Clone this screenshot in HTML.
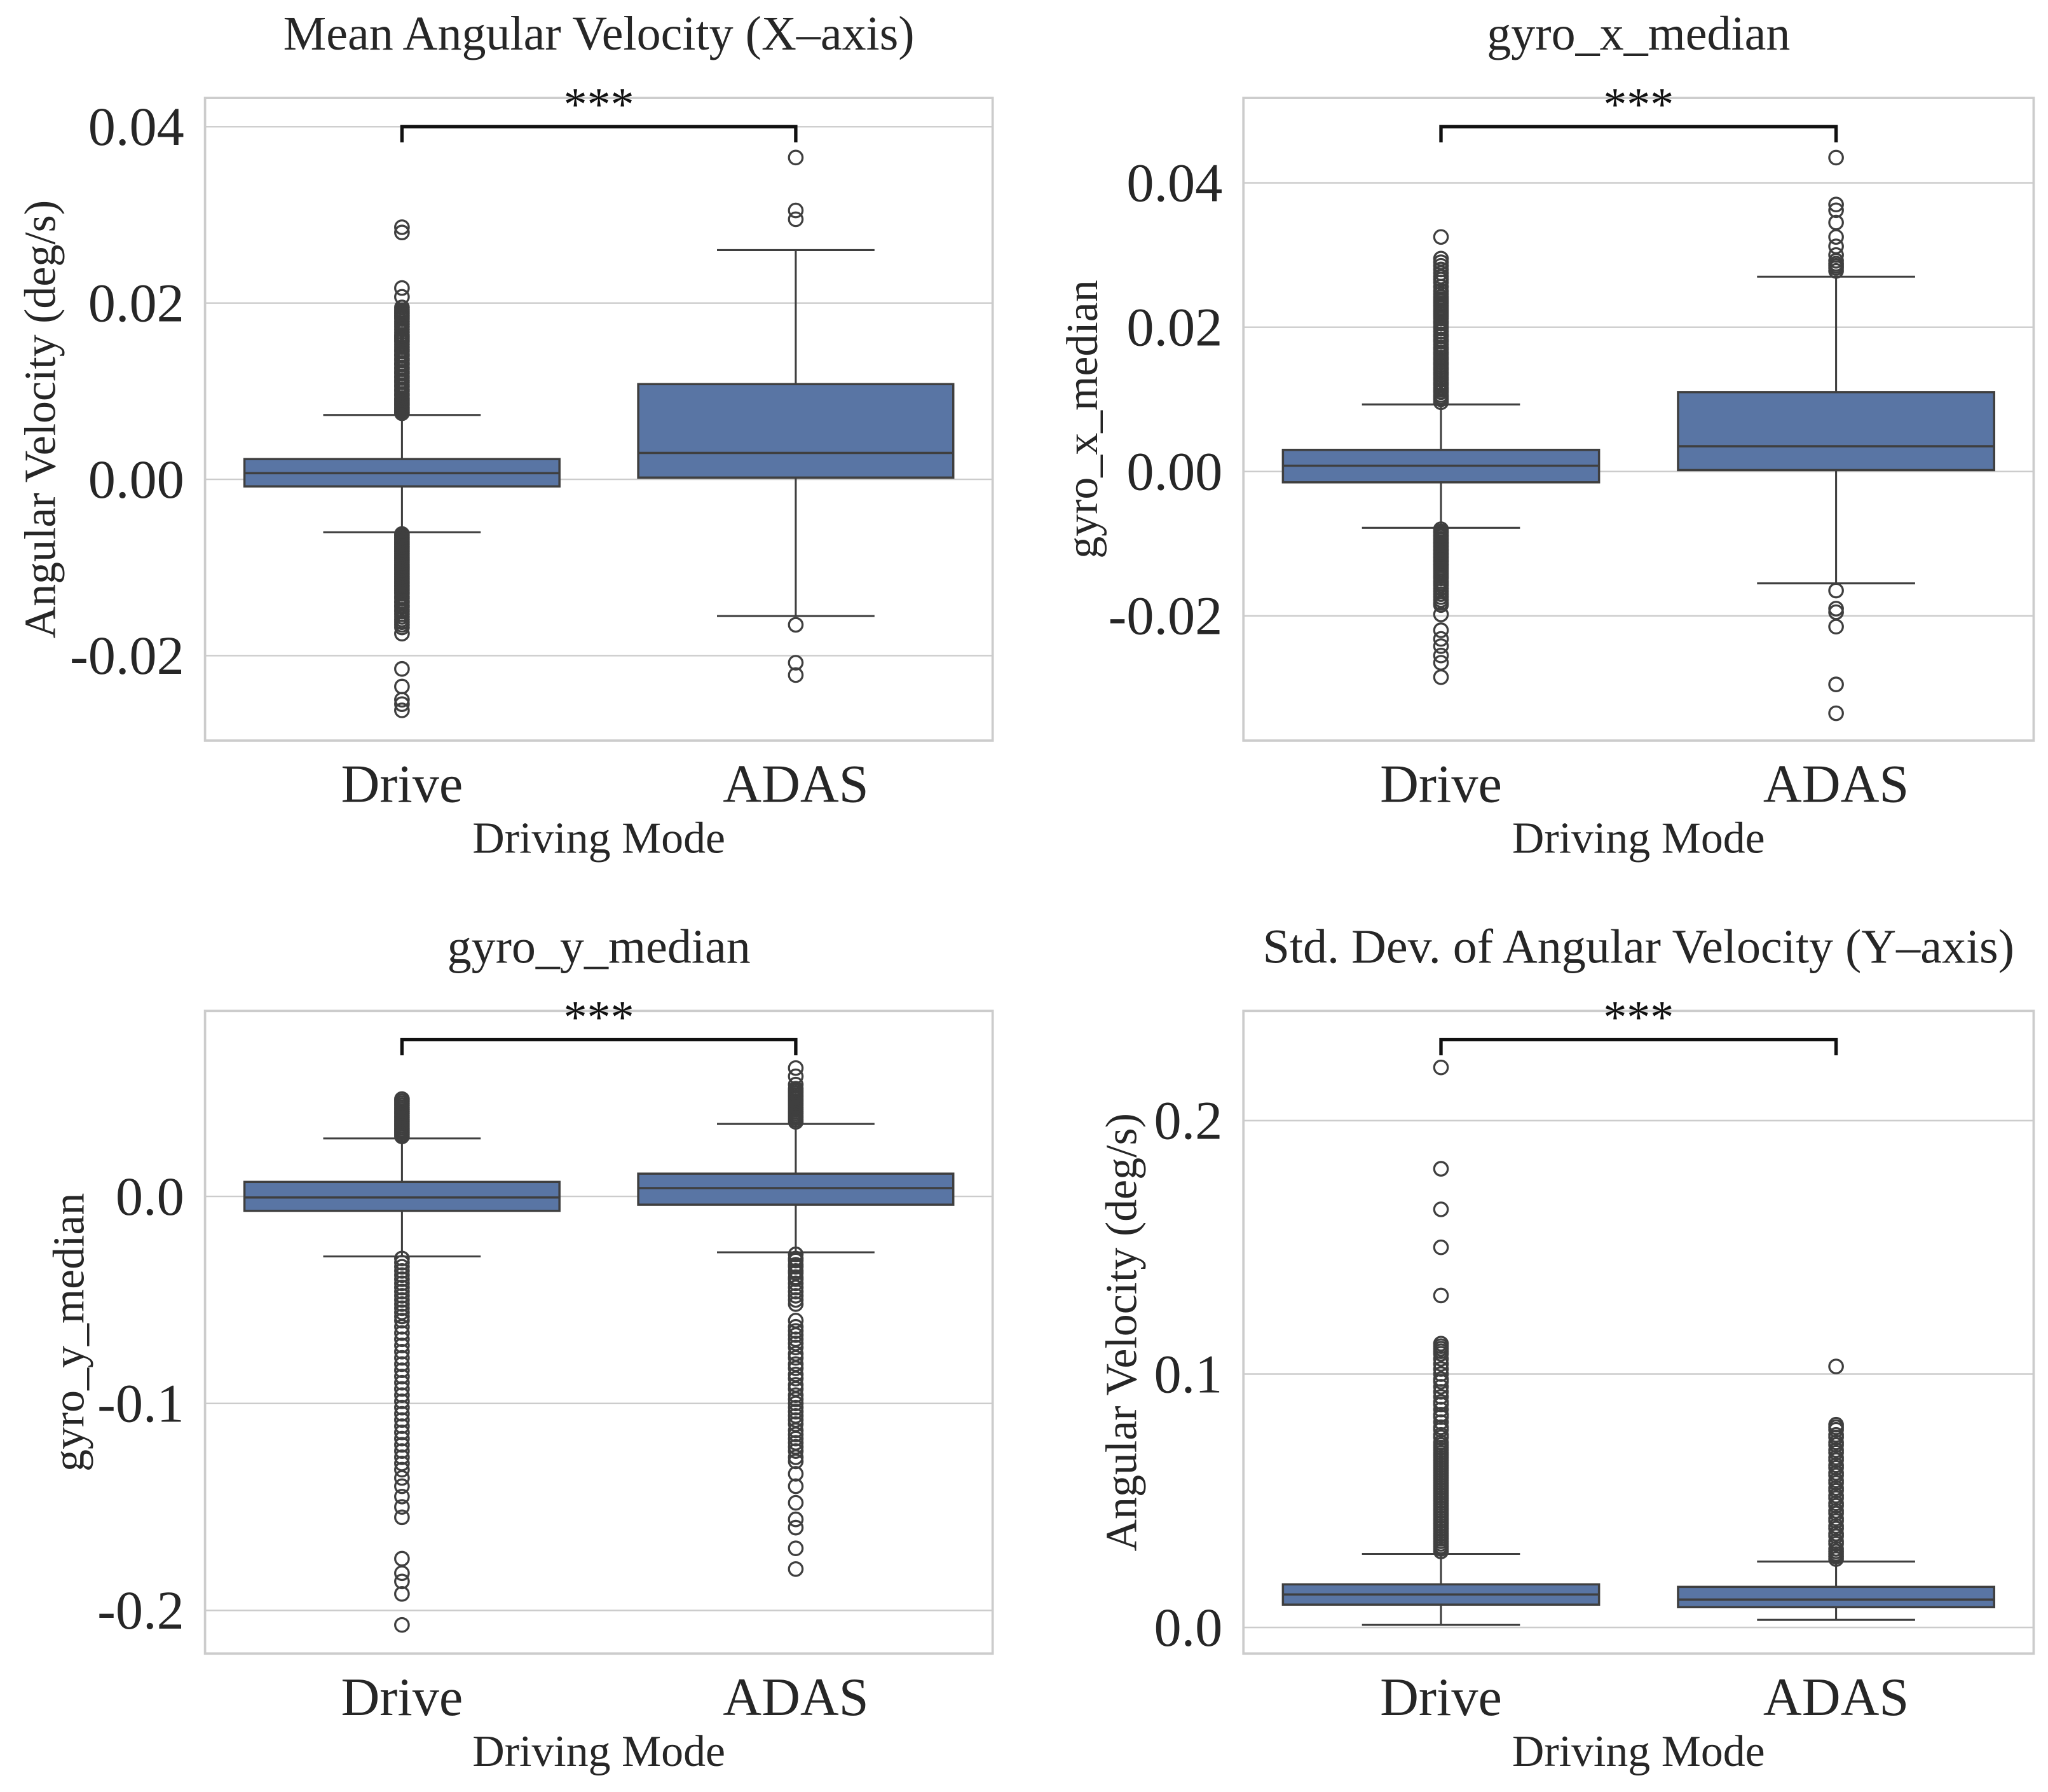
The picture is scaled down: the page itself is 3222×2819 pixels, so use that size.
<!DOCTYPE html>
<html><head><meta charset="utf-8"><style>
html,body{margin:0;padding:0;background:#fff;}
svg{display:block;}
text{font-family:"Liberation Serif",serif;fill:#262626;}
</style></head>
<body>
<svg id="fig" width="3222" height="2819" viewBox="0 0 1568 1372" preserveAspectRatio="none" xmlns="http://www.w3.org/2000/svg"></svg>
<script>
// ---- Data ----
const categories = ["Drive", "ADAS"];

// Panel 1: Mean Angular Velocity (X-axis)
const p1Ticks = [-0.02, 0.00, 0.02, 0.04];
const p1TickLabels = ["-0.02", "0.00", "0.02", "0.04"];
const p1Box = [
  {q1:-0.0008, med:0.0007, q3:0.0023, lo:-0.0060, hi:0.0073},
  {q1:0.0002, med:0.0030, q3:0.0108, lo:-0.0155, hi:0.0260}
];
const p1OutDrive = [0.0286,0.0280,0.0217,0.0207,0.0195,0.0192,0.0190,0.0188,0.0186,0.0184,0.0182,0.0179,0.0176,0.0173,0.0170,0.0167,0.0164,0.0162,0.0160,0.0158,0.0156,0.0153,0.0150,0.0147,0.0145,0.0142,0.0140,0.0137,0.0135,0.0132,0.0130,0.0127,0.0125,0.0122,0.0120,0.0117,0.0115,0.0112,0.0110,0.0107,0.0105,0.0102,0.0100,0.0097,0.0095,0.0092,0.0090,0.0088,0.0086,0.0084,0.0082,0.0080,0.0078,0.0076,0.0075,
  -0.0062,-0.0064,-0.0066,-0.0068,-0.0070,-0.0072,-0.0074,-0.0076,-0.0078,-0.0080,-0.0082,-0.0084,-0.0086,-0.0088,-0.0090,-0.0092,-0.0094,-0.0096,-0.0098,-0.0100,-0.0102,-0.0104,-0.0106,-0.0108,-0.0110,-0.0112,-0.0114,-0.0116,-0.0118,-0.0120,-0.0122,-0.0124,-0.0126,-0.0128,-0.0130,-0.0133,-0.0135,-0.0138,-0.0140,-0.0143,-0.0145,-0.0148,-0.0150,-0.0153,-0.0156,-0.0159,-0.0162,-0.0165,-0.0168,-0.0175,-0.0215,-0.0235,-0.0250,-0.0255,-0.0262];
const p1OutAdas = [0.0365,0.0305,0.0295,-0.0165,-0.0208,-0.0222];

// Panel 2: gyro_x_median
const p2Ticks = [-0.02, 0.00, 0.02, 0.04];
const p2TickLabels = ["-0.02", "0.00", "0.02", "0.04"];
const p2Box = [
  {q1:-0.0015, med:0.0008, q3:0.0030, lo:-0.0078, hi:0.0093},
  {q1:0.0002, med:0.0035, q3:0.0110, lo:-0.0155, hi:0.0270}
];
const p2OutDrive = [0.0325,0.0295,0.0290,0.0285,0.0280,0.0275,0.0270,0.0266,0.0262,0.0256,0.0250,0.0246,0.0242,0.0239,0.0236,0.0233,0.0230,0.0227,0.0224,0.0221,0.0218,0.0215,0.0212,0.0208,0.0205,0.0201,0.0198,0.0194,0.0190,0.0187,0.0183,0.0180,0.0176,0.0172,0.0169,0.0165,0.0162,0.0158,0.0155,0.0151,0.0148,0.0144,0.0141,0.0137,0.0134,0.0130,0.0127,0.0123,0.0120,0.0116,0.0113,0.0110,0.0106,0.0103,0.0100,0.0096,
  -0.0080,-0.0083,-0.0085,-0.0088,-0.0090,-0.0093,-0.0095,-0.0098,-0.0100,-0.0103,-0.0105,-0.0108,-0.0110,-0.0113,-0.0115,-0.0118,-0.0120,-0.0123,-0.0125,-0.0128,-0.0130,-0.0133,-0.0136,-0.0139,-0.0142,-0.0145,-0.0148,-0.0152,-0.0155,-0.0158,-0.0162,-0.0166,-0.0170,-0.0174,-0.0178,-0.0182,-0.0185,-0.0198,-0.0220,-0.0232,-0.0242,-0.0255,-0.0265,-0.0285];
const p2OutAdas = [0.0435,0.0370,0.0362,0.0345,0.0325,0.0312,0.0300,0.0292,0.0288,0.0285,0.0282,0.0278,-0.0165,-0.0190,-0.0195,-0.0215,-0.0295,-0.0335];

// Panel 3: gyro_y_median
const p3Ticks = [-0.2, -0.1, 0.0];
const p3TickLabels = ["-0.2", "-0.1", "0.0"];
const p3Box = [
  {q1:-0.007, med:-0.0005, q3:0.007, lo:-0.029, hi:0.028},
  {q1:-0.004, med:0.004, q3:0.011, lo:-0.027, hi:0.035}
];
const p3OutDrive = [0.047,0.046,0.045,0.044,0.043,0.042,0.041,0.040,0.039,0.038,0.037,0.036,0.035,0.034,0.033,0.032,0.031,0.030,0.029,
  -0.030,-0.032,-0.034,-0.036,-0.038,-0.040,-0.042,-0.044,-0.046,-0.048,-0.050,-0.052,-0.054,-0.056,-0.058,-0.060,-0.063,-0.066,-0.069,-0.072,-0.075,-0.078,-0.081,-0.084,-0.087,-0.090,-0.093,-0.096,-0.099,-0.102,-0.105,-0.108,-0.111,-0.114,-0.117,-0.120,-0.123,-0.126,-0.129,-0.132,-0.136,-0.140,-0.145,-0.150,-0.155,-0.175,-0.182,-0.186,-0.192,-0.207];
const p3OutAdas = [0.062,0.058,0.054,0.052,0.051,0.050,0.049,0.048,0.047,0.046,0.045,0.044,0.043,0.042,0.041,0.040,0.039,0.038,0.037,0.036,
  -0.028,-0.030,-0.031,-0.033,-0.034,-0.036,-0.037,-0.039,-0.040,-0.042,-0.044,-0.046,-0.048,-0.050,-0.052,-0.060,-0.063,-0.065,-0.067,-0.069,-0.071,-0.073,-0.076,-0.078,-0.081,-0.083,-0.086,-0.088,-0.091,-0.093,-0.096,-0.098,-0.100,-0.102,-0.104,-0.106,-0.108,-0.110,-0.113,-0.115,-0.117,-0.119,-0.121,-0.123,-0.126,-0.128,-0.134,-0.140,-0.148,-0.156,-0.160,-0.170,-0.180];

// Panel 4: Std. Dev. of Angular Velocity (Y-axis)
const p4Ticks = [0.0, 0.1, 0.2];
const p4TickLabels = ["0.0", "0.1", "0.2"];
const p4Box = [
  {q1:0.009, med:0.013, q3:0.017, lo:0.001, hi:0.029},
  {q1:0.008, med:0.011, q3:0.016, lo:0.003, hi:0.026}
];
const p4OutDrive = [0.221,0.181,0.165,0.150,0.131,0.112,0.111,0.110,0.109,0.108,0.106,0.104,0.102,0.100,0.098,0.097,0.095,0.093,0.091,0.089,0.088,0.086,0.084,0.083,0.081,0.079,0.078,0.076,0.075,0.073,0.072,0.071,0.070,0.069,0.068,0.067,0.066,0.065,0.064,0.063,0.062,0.061,0.060,0.059,0.058,0.057,0.056,0.055,0.054,0.053,0.052,0.051,0.050,0.049,0.048,0.047,0.046,0.045,0.044,0.043,0.042,0.041,0.040,0.039,0.038,0.037,0.036,0.035,0.034,0.033,0.032,0.031,0.030];
const p4OutAdas = [0.103,0.080,0.079,0.078,0.076,0.075,0.073,0.072,0.070,0.069,0.067,0.066,0.064,0.063,0.061,0.060,0.058,0.057,0.055,0.054,0.052,0.051,0.049,0.048,0.046,0.045,0.043,0.042,0.040,0.039,0.037,0.036,0.034,0.033,0.031,0.030,0.029,0.028,0.027];

// ---- Drawing ----
const NS = "http://www.w3.org/2000/svg";
const svg = document.getElementById("fig");
function mk(tag, attrs, parent) {
  const e = document.createElementNS(NS, tag);
  for (const k in attrs) e.setAttribute(k, attrs[k]);
  (parent || svg).appendChild(e);
  return e;
}
function panel(cfg) {
  const g = mk("g", {});
  
  
  const L = cfg.left, R = cfg.right, T = cfg.top, B = cfg.bottom;
  const y = v => cfg.py0 + (v - cfg.v0) * (cfg.py1 - cfg.py0) / (cfg.v1 - cfg.v0);
  const xc = i => L + (R - L) * (0.25 + 0.5 * i);
  const bw = (R - L) * 0.4;
  cfg.ticks.forEach((t, i) => {
    const ln = mk("line", {x1:L, x2:R, y1:y(t), y2:y(t), stroke:"#cccccc", "stroke-width":1.2}, g);
    
    
    const tx = mk("text", {x:L-16, y:y(t)+14, "font-size":42, "text-anchor":"end"}, g);
    tx.textContent = cfg.tickLabels[i];
    
    
  });
  const fr = mk("rect", {x:L, y:T, width:R-L, height:B-T, fill:"none", stroke:"#cccccc", "stroke-width":1.8}, g);
  
  
  cfg.box.forEach((b, i) => {
    const cx = xc(i);
    const wl = mk("line", {x1:cx, x2:cx, y1:y(b.hi), y2:y(b.lo), stroke:"#3f3f3f", "stroke-width":1.5}, g);
    
    
    [b.hi, b.lo].forEach(v => {
      const c = mk("line", {x1:cx-bw/4, x2:cx+bw/4, y1:y(v), y2:y(v), stroke:"#3f3f3f", "stroke-width":1.5}, g);
      
      
    });
    const r = mk("rect", {x:cx-bw/2, y:y(b.q3), width:bw, height:Math.max(1, y(b.q1)-y(b.q3)), fill:"#5975a4", stroke:"#3f3f3f", "stroke-width":1.7}, g);
    
    
    const m = mk("line", {x1:cx-bw/2, x2:cx+bw/2, y1:y(b.med), y2:y(b.med), stroke:"#3f3f3f", "stroke-width":1.7}, g);
    
    
    const outs = i === 0 ? cfg.outDrive : cfg.outAdas;
    outs.forEach(v => {
      const o = mk("circle", {cx:cx, cy:y(v), r:5.2, fill:"none", stroke:"#3f3f3f", "stroke-width":1.6}, g);
      
      
    });
    const xl = mk("text", {x:cx, y:B+47, "font-size":41, "text-anchor":"middle"}, g);
    xl.textContent = categories[i];
    
    
  });
  const by = T + 22;
  const br = mk("path", {d:`M${xc(0)},${by+12} V${by} H${xc(1)} V${by+12}`, fill:"none", stroke:"#111", "stroke-width":2.6}, g);
  
  
  const st = mk("text", {x:(xc(0)+xc(1))/2, y:T+17, "font-size":36, "text-anchor":"middle", style:"fill:#111"}, g);
  st.textContent = "***";
  
  
  const ti = mk("text", {x:(L+R)/2, y:T-37, "font-size":37, "text-anchor":"middle"}, g);
  ti.textContent = cfg.title;
  
  
  const xt = mk("text", {x:(L+R)/2, y:B+86, "font-size":34, "text-anchor":"middle"}, g);
  xt.textContent = "Driving Mode";
  
  
  const yl = mk("text", {x:0, y:0, "font-size":34, "text-anchor":"middle", transform:`translate(${cfg.ylx},${(T+B)/2}) rotate(-90)`}, g);
  yl.textContent = cfg.ylabel;
  
  
}
panel({name:"panel-mean-angular-velocity-x", title:"Mean Angular Velocity (X\u2013axis)", ylabel:"Angular Velocity (deg/s)", ylx:42,
  left:157, right:760, top:75, bottom:567, v0:0, py0:367, v1:0.04, py1:97,
  ticks:p1Ticks, tickLabels:p1TickLabels, box:p1Box, outDrive:p1OutDrive, outAdas:p1OutAdas});
panel({name:"panel-gyro-x-median", title:"gyro_x_median", ylabel:"gyro_x_median", ylx:840,
  left:952, right:1557, top:75, bottom:567, v0:0, py0:361, v1:0.04, py1:140,
  ticks:p2Ticks, tickLabels:p2TickLabels, box:p2Box, outDrive:p2OutDrive, outAdas:p2OutAdas});
panel({name:"panel-gyro-y-median", title:"gyro_y_median", ylabel:"gyro_y_median", ylx:64,
  left:157, right:760, top:774, bottom:1266, v0:0, py0:916, v1:-0.2, py1:1233,
  ticks:p3Ticks, tickLabels:p3TickLabels, box:p3Box, outDrive:p3OutDrive, outAdas:p3OutAdas});
panel({name:"panel-std-angular-velocity-y", title:"Std. Dev. of Angular Velocity (Y\u2013axis)", ylabel:"Angular Velocity (deg/s)", ylx:870,
  left:952, right:1557, top:774, bottom:1266, v0:0, py0:1246, v1:0.2, py1:858,
  ticks:p4Ticks, tickLabels:p4TickLabels, box:p4Box, outDrive:p4OutDrive, outAdas:p4OutAdas});
</script>
</body></html>
